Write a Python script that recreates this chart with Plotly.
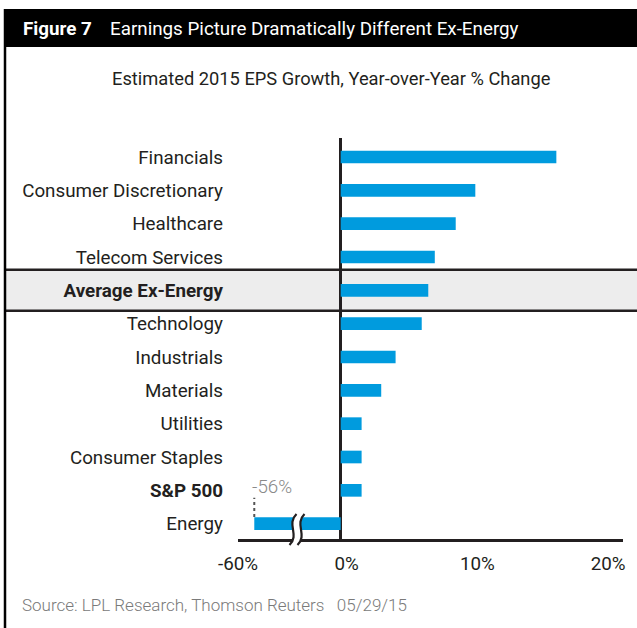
import plotly.graph_objects as go

# data -------------------------------------------------------------------
SECTORS = ["Financials", "Consumer Discretionary", "Healthcare", "Telecom Services",
           "Average Ex-Energy", "Technology", "Industrials", "Materials", "Utilities",
           "Consumer Staples", "S&P 500", "Energy"]
EPS_GROWTH = [16.5, 10.3, 8.8, 7.2, 6.7, 6.2, 4.2, 3.1, 1.6, 1.6, 1.6, -56.0]
BOLD = ["Average Ex-Energy", "S&P 500"]
MAIN_TICKS = [0, 10, 20]
MAIN_TICKTEXT = ["0%", "10%", "20%"]
LOW_TICKS = [-60]
LOW_TICKTEXT = ["-60%"]

TITLE_NUM = "Figure 7"
TITLE = "Earnings Picture Dramatically Different Ex-Energy"
SUBTITLE = "Estimated 2015 EPS Growth, Year-over-Year % Change"
SOURCE = "Source: LPL Research, Thomson Reuters&nbsp;&nbsp;&nbsp;05/29/15"

C = {
    "blue": "#009bde",
    "ink": "#231f20",
    "band": "#ededed",
    "gray": "#8a8a8a",
    "src": "#7a7a7a",
}
FONT = "Roboto, Arial, sans-serif"

W, H = 637, 628
L, R, T, B = 238, 14, 138, 89
PW, PH = W - L - R, H - T - B
BRK = (297 - L) / PW          # where the broken axis jumps


def px(x):
    return (x - L) / PW


def py(y):
    return (H - B - y) / PH


energy = SECTORS.index("Energy")
avg = SECTORS.index("Average Ex-Energy")
ticktext = [f"<b>{s}</b>" if s in BOLD else s for s in SECTORS]

fig = go.Figure()
fig.add_trace(go.Bar(x=EPS_GROWTH, y=SECTORS, orientation="h", width=0.38,
                     marker=dict(color=C["blue"], line_width=0),
                     xaxis="x", yaxis="y", showlegend=False))
fig.add_trace(go.Bar(x=[EPS_GROWTH[energy]], y=[SECTORS[energy]], orientation="h",
                     width=0.38, marker=dict(color=C["blue"], line_width=0),
                     xaxis="x2", yaxis="y", showlegend=False))

axis_common = dict(showgrid=False, showline=True, linecolor=C["ink"], linewidth=2.5,
                   ticks="", tickfont=dict(size=18.8, color=C["ink"]), anchor="y",
                   ticklabelstandoff=6)

shapes = [
    # header bar + frame
    dict(type="rect", xref="paper", yref="paper", x0=px(4), x1=px(640), y0=py(47), y1=py(9),
         fillcolor="black", line_width=0, layer="below"),
    dict(type="line", xref="paper", yref="paper", x0=px(5), x1=px(5), y0=py(9), y1=py(632),
         line=dict(color="black", width=2.5)),
    # highlight band for the average
    dict(type="rect", xref="paper", yref="y", x0=px(5), x1=px(640),
         y0=avg - 0.615, y1=avg + 0.615, fillcolor=C["band"], line_width=0, layer="below"),
    dict(type="line", xref="paper", yref="y", x0=px(5), x1=px(640),
         y0=avg - 0.615, y1=avg - 0.615, line=dict(color=C["ink"], width=2.5), layer="below"),
    dict(type="line", xref="paper", yref="y", x0=px(5), x1=px(640),
         y0=avg + 0.615, y1=avg + 0.615, line=dict(color=C["ink"], width=2.5), layer="below"),
    # dotted leader from energy bar to its label
    dict(type="line", xref="x2", yref="y", x0=EPS_GROWTH[energy], x1=EPS_GROWTH[energy],
         y0=energy - 0.2, y1=energy - 0.78, line=dict(color="#555555", width=2, dash="dot")),
]

# axis break marks
bx = BRK


def wave(dx):
    x0 = bx + dx / PW
    yb, yt = py(545), py(514)
    a = 7 / PW
    return (x0, yb, yt, a)


def s_path(dx):
    x0, yb, yt, a = wave(dx)
    ym1 = yb + (yt - yb) / 3
    ym2 = yb + 2 * (yt - yb) / 3
    return f"M{x0 - a / 2},{yb} C{x0 + a},{ym1} {x0 - a},{ym2} {x0 + a / 2},{yt}"


xa, yb, yt, a = wave(-4)
xb, _, _, _ = wave(4)
ym1 = yb + (yt - yb) / 3
ym2 = yb + 2 * (yt - yb) / 3
gap = (f"M{xa - a / 2},{yb} C{xa + a},{ym1} {xa - a},{ym2} {xa + a / 2},{yt} "
       f"L{xb + a / 2},{yt} C{xb - a},{ym2} {xb + a},{ym1} {xb - a / 2},{yb} Z")
shapes += [
    dict(type="path", xref="paper", yref="paper", path=gap, fillcolor="white", line_width=0),
    dict(type="path", xref="paper", yref="paper", path=s_path(-4),
         line=dict(color=C["ink"], width=2.2)),
    dict(type="path", xref="paper", yref="paper", path=s_path(4),
         line=dict(color=C["ink"], width=2.2)),
]

annotations = [
    dict(text=f"<b>{TITLE_NUM}</b>", xref="paper", yref="paper", x=px(21), y=py(29),
         xanchor="left", yanchor="middle", showarrow=False,
         font=dict(size=18.8, color="white")),
    dict(text=TITLE, xref="paper", yref="paper", x=px(108), y=py(29),
         xanchor="left", yanchor="middle", showarrow=False,
         font=dict(size=18.8, color="white")),
    dict(text=SUBTITLE, xref="paper", yref="paper", x=px(331), y=py(78),
         xanchor="center", yanchor="middle", showarrow=False,
         font=dict(size=18.3, color=C["ink"])),
    dict(text=SOURCE, xref="paper", yref="paper", x=px(20), y=py(605),
         xanchor="left", yanchor="middle", showarrow=False,
         font=dict(size=17, color=C["src"], weight=300)),
    dict(text="-56%", xref="x2", yref="y", x=EPS_GROWTH[energy], y=energy - 1.1,
         xanchor="left", yanchor="middle", xshift=-4, showarrow=False,
         font=dict(size=18.8, color=C["gray"], weight=300)),
]

fig.update_layout(
    width=W, height=H,
    margin=dict(l=L, r=R, t=T, b=B),
    paper_bgcolor="white", plot_bgcolor="rgba(0,0,0,0)",
    font=dict(family=FONT, color=C["ink"], size=18.8),
    barmode="overlay",
    xaxis=dict(domain=[BRK, 1], range=[(297 - 340.7) / 13.07, (623 - 340.7) / 13.07],
               tickvals=MAIN_TICKS, ticktext=MAIN_TICKTEXT, ticklabelshift=6,
               zeroline=True, zerolinecolor=C["ink"], zerolinewidth=2.5, **axis_common),
    xaxis2=dict(domain=[0, BRK], range=[-60, -45.5], tickvals=LOW_TICKS,
                ticktext=LOW_TICKTEXT, zeroline=False, **axis_common),
    yaxis=dict(categoryorder="array", categoryarray=SECTORS, range=[11.46, -0.57],
               tickvals=SECTORS, ticktext=ticktext, anchor="x2", showgrid=False,
               zeroline=False, showline=False, ticks="", ticklabelstandoff=14,
               tickfont=dict(size=18.8, color=C["ink"])),
    shapes=shapes,
    annotations=annotations,
)

fig.write_html("out.html", config={"displayModeBar": False},
               post_script="document.body.style.margin='0';document.body.style.overflow='hidden';")
